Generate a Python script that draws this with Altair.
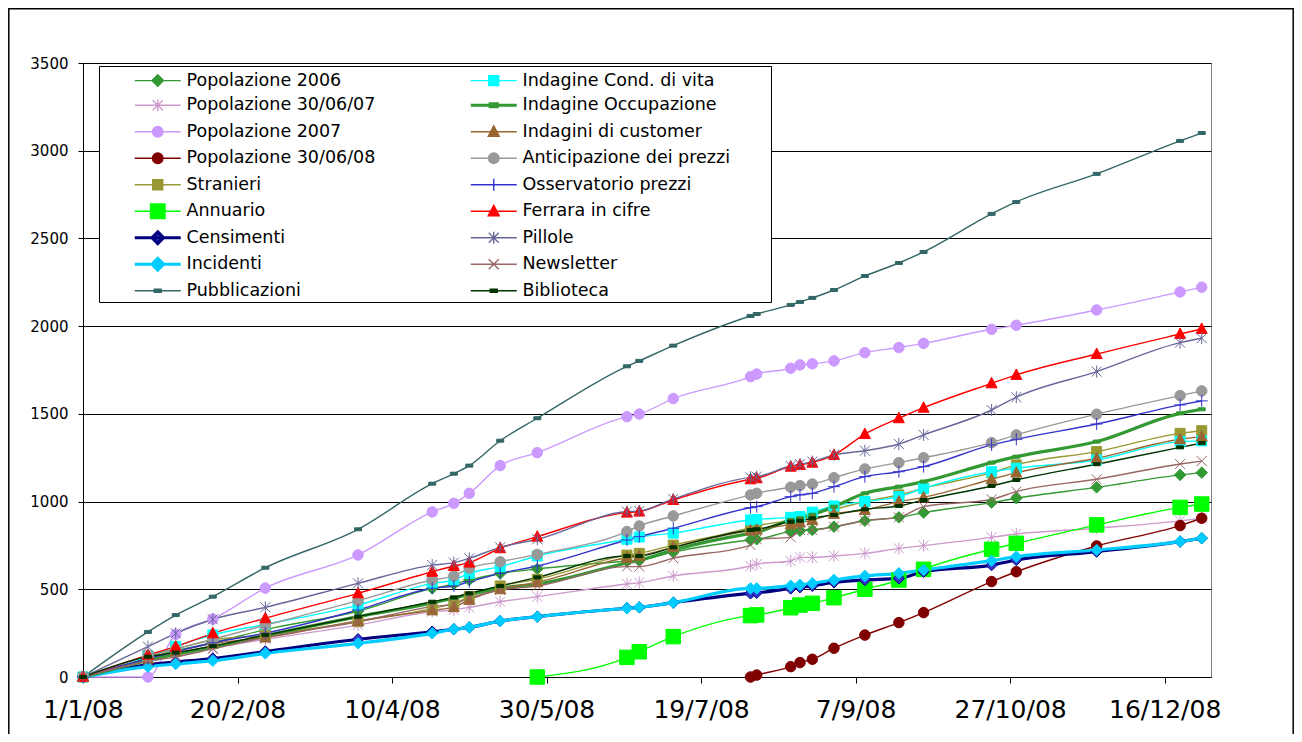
import altair as alt
import pandas as pd
from datetime import date

# ---------------- data ----------------
DATES = ["2008-01-01", "2008-01-22", "2008-01-31", "2008-02-12", "2008-02-29", "2008-03-30",
         "2008-04-23", "2008-04-30", "2008-05-05", "2008-05-15", "2008-05-27", "2008-06-25",
         "2008-06-29", "2008-07-10", "2008-08-04", "2008-08-06", "2008-08-17", "2008-08-20",
         "2008-08-24", "2008-08-31", "2008-09-10", "2008-09-21", "2008-09-29", "2008-10-21",
         "2008-10-29", "2008-11-24", "2008-12-21", "2008-12-28"]

POP_2006 = [0, 110, 150, 195, 270, 375, 505, 530, 553, 590, 616, 660, 665, 712, 781, 785, 829, 834, 838, 857, 891, 910, 937, 994, 1019, 1081, 1152, 1165]
POP_300607 = [0, 95, 125, 165, 215, 296, 372, 382, 397, 429, 458, 530, 538, 576, 633, 644, 661, 682, 682, 690, 705, 733, 749, 796, 815, 848, 890, 905]
POP_2007 = [0, 0, 243, 330, 507, 696, 941, 990, 1047, 1205, 1279, 1484, 1499, 1587, 1712, 1727, 1760, 1779, 1785, 1802, 1849, 1878, 1902, 1982, 2005, 2092, 2195, 2222]
POP_300608 = [None, None, None, None, None, None, None, None, None, None, None, None, None, None,
              0, 11, 59, 82, 101, 164, 239, 310, 367, 544, 600, 747, 863, 905]
STRANIERI = [0, 120, 160, 211, 239, 316, 391, 420, 458, 519, 557, 695, 705, 752, 851, 861, 895, 910, 933, 956, 1000, 1038, 1076, 1165, 1209, 1285, 1389, 1404]
ANNUARIO = [None, None, None, None, None, None, None, None, None, None,
            0, 112, 144, 230, 350, 354, 395, 410, 420, 452, 500, 553, 614, 728, 762, 867, 967, 986]
CENSIMENTI = [0, 70, 85, 105, 145, 215, 258, 272, 283, 319, 344, 392, 397, 424, 477, 480, 505, 512, 520, 540, 553, 562, 600, 638, 667, 715, 772, 791]
INCIDENTI = [0, 59, 74, 93, 135, 192, 249, 272, 283, 319, 344, 392, 397, 424, 505, 505, 520, 525, 534, 553, 576, 591, 610, 663, 686, 724, 772, 791]
PUBBLICAZIONI = [0, 257, 353, 458, 623, 842, 1102, 1159, 1205, 1347, 1475, 1771, 1802, 1889, 2058, 2069, 2121, 2138, 2161, 2206, 2286, 2360, 2423, 2640, 2708, 2868, 3056, 3101]
COND_VITA = [0, 115, 175, 240, 300, 410, 534, 553, 591, 629, 690, 785, 798, 820, 895, 898, 910, 915, 940, 975, 1000, 1028, 1076, 1170, 1190, 1237, 1342, 1346]
OCCUPAZIONE = [0, 95, 130, 170, 235, 344, 422, 450, 470, 507, 530, 650, 665, 724, 819, 825, 895, 905, 925, 971, 1047, 1085, 1114, 1222, 1256, 1342, 1503, 1526]
CUSTOMER = [0, 105, 145, 190, 225, 320, 380, 398, 440, 500, 540, 680, 690, 740, 835, 840, 870, 880, 895, 930, 952, 1000, 1024, 1127, 1165, 1247, 1355, 1370]
ANTICIPAZIONE = [0, 120, 160, 215, 295, 435, 553, 576, 620, 657, 699, 829, 861, 918, 1038, 1047, 1082, 1091, 1100, 1136, 1186, 1222, 1250, 1336, 1380, 1498, 1604, 1631]
OSSERVATORIO = [0, 105, 145, 195, 250, 382, 506, 519, 543, 591, 633, 781, 800, 848, 965, 971, 1028, 1038, 1047, 1085, 1142, 1170, 1199, 1323, 1355, 1442, 1551, 1574]
FERRARA = [0, 125, 173, 249, 335, 477, 600, 633, 652, 734, 800, 937, 943, 1009, 1127, 1133, 1199, 1209, 1222, 1266, 1385, 1475, 1535, 1674, 1722, 1841, 1955, 1984]
PILLOLE = [0, 173, 249, 329, 397, 534, 638, 652, 677, 739, 785, 943, 946, 1015, 1138, 1142, 1203, 1213, 1228, 1266, 1290, 1328, 1380, 1522, 1595, 1741, 1906, 1931]
NEWSLETTER = [0, 90, 115, 160, 225, 315, 401, 416, 449, 496, 519, 629, 629, 677, 752, 785, 796, 838, 838, 857, 891, 910, 971, 1013, 1057, 1127, 1214, 1231]
BIBLIOTECA = [0, 116, 139, 177, 239, 344, 429, 454, 477, 519, 568, 690, 690, 739, 838, 842, 885, 891, 905, 924, 956, 975, 1009, 1089, 1123, 1213, 1309, 1333]

SERIES = ["Popolazione 2006", "Popolazione 30/06/07", "Popolazione 2007",
          "Popolazione 30/06/08", "Stranieri", "Annuario", "Censimenti", "Incidenti",
          "Pubblicazioni",
          "Indagine Cond. di vita", "Indagine Occupazione", "Indagini di customer",
          "Anticipazione  dei prezzi", "Osservatorio prezzi", "Ferrara in cifre",
          "Pillole", "Newsletter", "Biblioteca"]
VALUES = [POP_2006, POP_300607, POP_2007, POP_300608, STRANIERI, ANNUARIO, CENSIMENTI,
          INCIDENTI, PUBBLICAZIONI, COND_VITA, OCCUPAZIONE, CUSTOMER, ANTICIPAZIONE,
          OSSERVATORIO, FERRARA, PILLOLE, NEWSLETTER, BIBLIOTECA]

# ---------------- styles ----------------
LINE_COLORS = ["#339933", "#CC99CC", "#CC99FF", "#800000", "#999933", "#00FF00",
               "#000080", "#00CCFF", "#336666",
               "#00FFFF", "#339933", "#996633", "#999999", "#3333CC", "#FF0000",
               "#666699", "#996666", "#003300"]
MARKER_COLORS = ["#339933", "#CC99CC", "#CC99FF", "#800000", "#999933", "#00FF00",
                 "#3333CC", "#00CCFF", "#336666",
                 "#00FFFF", "#339933", "#996633", "#999999", "#3333CC", "#FF0000",
                 "#666699", "#996666", "#003300"]
LINE_WIDTHS = [1.4, 1.4, 1.4, 1.4, 1.4, 1.4, 3.2, 3.2, 1.4,
               1.4, 3.2, 1.4, 1.4, 1.4, 1.4, 1.4, 1.4, 1.4]

SHAPES = {
    "diamond": "M0,-1.15L1.15,0L0,1.15L-1.15,0Z",
    "circle": "M-1.05,0A1.05,1.05,0,1,0,1.05,0A1.05,1.05,0,1,0,-1.05,0Z",
    "square": "M-1,-1H1V1H-1Z",
    "bigsquare": "M-1.45,-1.45H1.45V1.45H-1.45Z",
    "triangle": "M0,-1.2L1.1,0.9H-1.1Z",
    "plus": "M-1.2,0H1.2M0,-1.2V1.2",
    "x": "M-1,-1L1,1M-1,1L1,-1",
    "asterisk": "M0,-1.2V1.2M-1,-1L1,1M-1,1L1,-1",
    "dash": "M-0.7,-0.3H0.7V0.3H-0.7Z",
}
MARKERS = ["diamond", "asterisk", "circle", "circle", "square", "bigsquare", "diamond",
           "diamond", "dash",
           "square", "dash", "triangle", "circle", "plus", "triangle", "asterisk", "x",
           "dash"]
CHART_PATHS = [SHAPES[m] for m in MARKERS]
LEGEND_PATHS = ["M-4.6,0H4.6" + SHAPES[m] for m in MARKERS]

# ---------------- table ----------------
start = date(2008, 1, 1)
rows = []
for name, vals in zip(SERIES, VALUES):
    for d, v in zip(DATES, vals):
        if v is None:
            continue
        rows.append({"series": name, "day": (date.fromisoformat(d) - start).days, "value": v})
df = pd.DataFrame(rows)
legend_df = pd.DataFrame({"series": SERIES, "day": [0] * len(SERIES), "value": [-1000] * len(SERIES)})

FONT = "DejaVu Sans"

x_enc = alt.X("day:Q",
              scale=alt.Scale(domain=[0, 365], nice=False, zero=False),
              axis=alt.Axis(values=list(range(0, 351, 50)),
                            labelExpr="timeFormat(datetime(2008, 0, 1 + datum.value), '%-d/%-m/%y')",
                            title=None, grid=False, domainColor="#000", domainWidth=1,
                            tickColor="#000", tickSize=6, labelFont=FONT, labelFontSize=25,
                            labelColor="#000", labelPadding=14, labelFlush=False,
                            labelOverlap=False))
y_enc = alt.Y("value:Q",
              scale=alt.Scale(domain=[0, 3500], nice=False),
              axis=alt.Axis(values=list(range(0, 3501, 500)), format="d", title=None,
                            grid=True, gridColor="#000", gridWidth=1, gridOpacity=1,
                            domainColor="#000", domainWidth=1, tickColor="#000", tickSize=5,
                            labelFont=FONT, labelFontSize=15, labelColor="#000",
                            labelPadding=10))

stroke_scale = alt.Scale(domain=SERIES, range=LINE_COLORS)
fill_scale = alt.Scale(domain=SERIES, range=MARKER_COLORS)
sw_scale = alt.Scale(type="ordinal", domain=SERIES, range=LINE_WIDTHS)

lines = alt.Chart(df).mark_line(interpolate="monotone").encode(
    x=x_enc, y=y_enc,
    stroke=alt.Stroke("series:N", scale=stroke_scale, legend=None),
    strokeWidth=alt.StrokeWidth("series:N", scale=sw_scale, legend=None),
)

points = alt.Chart(df).mark_point(filled=True, size=100, opacity=1, strokeWidth=1).encode(
    x=x_enc, y=y_enc,
    fill=alt.Fill("series:N", scale=fill_scale, legend=None),
    stroke=alt.Stroke("series:N", scale=stroke_scale, legend=None),
    shape=alt.Shape("series:N", scale=alt.Scale(domain=SERIES, range=CHART_PATHS), legend=None),
)


def leg():
    return alt.Legend(title=None)


legend_layer = alt.Chart(legend_df).mark_point(filled=True, size=100, opacity=1, clip=True).encode(
    x=x_enc, y=y_enc,
    fill=alt.Fill("series:N", scale=fill_scale, legend=leg()),
    stroke=alt.Stroke("series:N", scale=stroke_scale, legend=leg()),
    strokeWidth=alt.StrokeWidth("series:N", scale=sw_scale, legend=leg()),
    shape=alt.Shape("series:N", scale=alt.Scale(domain=SERIES, range=LEGEND_PATHS),
                    legend=leg()),
)

one = pd.DataFrame({"k": [0]})
# outer chart frame (decoration)
frame = alt.Chart(one).mark_rect(
    fill=None, stroke="#000", strokeWidth=1.5, clip=False
).encode(x=alt.value(-74.2), x2=alt.value(1210.2), y=alt.value(-54.2), y2=alt.value(700))
# legend box (decoration, drawn over the plot like Excel's legend)
legend_box = alt.Chart(one).mark_rect(
    fill="#ffffff", stroke="#000", strokeWidth=1, clip=False
).encode(x=alt.value(16.5), x2=alt.value(688.5), y=alt.value(3.5), y2=alt.value(239.5))

chart = (
    alt.layer(frame, lines, points, legend_box, legend_layer)
    .resolve_scale(shape="independent")
    .resolve_legend(fill="independent", stroke="independent",
                    strokeWidth="independent", shape="independent")
    .properties(width=1128, height=614,
                padding={"left": 75, "top": 55, "right": 83, "bottom": 57},
                autosize=alt.AutoSizeParams(type="none"),
                background="white")
    .configure_view(stroke="#808080", strokeWidth=1)
    .configure_legend(orient="none", legendX=16, legendY=2, columns=2,
                      columnPadding=40, rowPadding=1.5, padding=5, gridAlign="all",
                      labelFont=FONT, labelFontSize=17.5, labelColor="#000",
                      labelOffset=20, symbolOffset=45, labelLimit=600,
                      symbolSize=100)
)

chart.save("out.html", embed_options={"renderer": "svg", "actions": False})
